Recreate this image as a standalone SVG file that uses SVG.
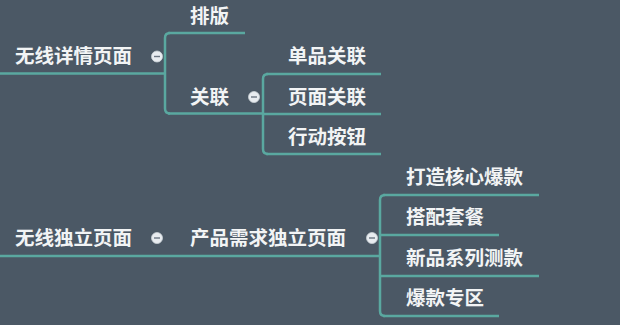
<svg xmlns="http://www.w3.org/2000/svg" width="620" height="325" viewBox="0 0 620 325">
<style>
.t{font-family:"Noto Sans CJK SC","Noto Sans",sans-serif;font-size:19.5px;fill:#f2f4f5;font-weight:700}
.l{stroke:#5aa8a0;stroke-width:2.5;fill:none;stroke-linecap:butt}
.c{fill:#e8ecf0;stroke:#c9d0d6;stroke-width:0.8}
.m{stroke:#6b7682;stroke-width:1.4}
</style>
<defs>
<g id="col"><circle class="c" r="5.5"/><line class="m" x1="-3" y1="0" x2="3" y2="0"/></g>
</defs>
<rect width="620" height="325" fill="#4b5865"/>
<g id="connectors">
<path class="l" d="M170,33 Q165,33 165,38 V108.5 Q165,113.5 170,113.5"/>
<path class="l" d="M268,74 Q263,74 263,79 V149 Q263,154 268,154"/>
<path class="l" d="M385,195 Q380,195 380,200 V311 Q380,316 385,316"/>
</g>
<g id="n1"><line class="l" x1="0" y1="73.5" x2="165" y2="73.5"/><text class="t" x="15" y="63">无线详情页面</text><use href="#col" x="157" y="56.5"/></g>
<g id="n1a"><line class="l" x1="168" y1="33" x2="245" y2="33"/><text class="t" x="190" y="23">排版</text></g>
<g id="n1b"><line class="l" x1="168" y1="113.5" x2="263" y2="113.5"/><text class="t" x="190" y="104">关联</text><use href="#col" x="254" y="97"/></g>
<g id="n1b1"><line class="l" x1="266" y1="74" x2="381" y2="74"/><text class="t" x="288" y="63">单品关联</text></g>
<g id="n1b2"><line class="l" x1="263" y1="114" x2="381" y2="114"/><text class="t" x="288" y="104">页面关联</text></g>
<g id="n1b3"><line class="l" x1="266" y1="154" x2="381" y2="154"/><text class="t" x="288" y="144">行动按钮</text></g>
<g id="n2"><line class="l" x1="0" y1="256" x2="165" y2="256"/><text class="t" x="15" y="245">无线独立页面</text><use href="#col" x="157" y="238"/></g>
<g id="n2a"><line class="l" x1="165" y1="256" x2="380" y2="256"/><text class="t" x="190" y="245">产品需求独立页面</text><use href="#col" x="372" y="238"/></g>
<g id="n2a1"><line class="l" x1="383" y1="195" x2="539" y2="195"/><text class="t" x="406" y="184">打造核心爆款</text></g>
<g id="n2a2"><line class="l" x1="380" y1="235" x2="499" y2="235"/><text class="t" x="406" y="224">搭配套餐</text></g>
<g id="n2a3"><line class="l" x1="380" y1="276" x2="539" y2="276"/><text class="t" x="406" y="265">新品系列测款</text></g>
<g id="n2a4"><line class="l" x1="383" y1="316" x2="499" y2="316"/><text class="t" x="406" y="305">爆款专区</text></g>
</svg>
